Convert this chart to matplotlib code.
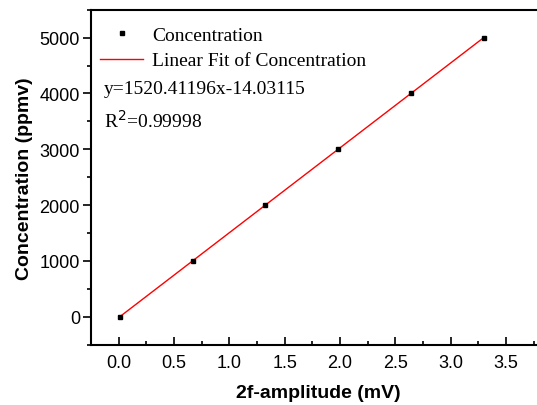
import numpy as np
import matplotlib.pyplot as plt
from matplotlib.ticker import MultipleLocator

# data
amplitude = [0.01, 0.67, 1.32, 1.98, 2.64, 3.30]
concentration = [0, 1000, 2000, 3000, 4000, 5000]
slope = 1520.41196
intercept = -14.03115

fig = plt.figure(figsize=(5.37, 4.06), dpi=100)
ax = fig.add_axes([0.1695, 0.1485, 0.847, 0.825])

xfit = np.array([amplitude[0], amplitude[-1]])
ax.plot(amplitude, concentration, 's', color='black', ms=3, label='Concentration', zorder=3)
ax.plot(xfit, slope*xfit + intercept, '-', color='red', lw=1, label='Linear Fit of Concentration')

ax.set_xlim(-0.25, 3.86)
ax.set_ylim(-500, 5500)
ax.xaxis.set_major_locator(MultipleLocator(0.5))
ax.xaxis.set_minor_locator(MultipleLocator(0.25))
ax.yaxis.set_major_locator(MultipleLocator(1000))
ax.yaxis.set_minor_locator(MultipleLocator(500))
ax.tick_params(axis='x', which='both', direction='in', top=False, pad=7)
ax.tick_params(axis='y', which='both', direction='out', right=False, pad=2)
ax.tick_params(which='major', length=6, width=1.2, labelsize=13)
ax.tick_params(which='minor', length=3, width=1.2)
ax.xaxis.set_major_formatter(plt.FormatStrFormatter('%.1f'))
for lab in ax.get_xticklabels() + ax.get_yticklabels():
    lab.set_family('Liberation Sans')
for s in ax.spines.values():
    s.set_linewidth(1.5)

ax.set_xlabel('2f-amplitude (mV)', fontsize=14, fontweight='bold', family='Liberation Sans', labelpad=9)
ax.set_ylabel('Concentration (ppmv)', fontsize=14, fontweight='bold', family='Liberation Sans', labelpad=5)

leg = ax.legend(loc='upper left', bbox_to_anchor=(-0.005, 0.985), frameon=False,
                prop={'family': 'Liberation Serif', 'size': 14}, handlelength=2.2,
                handletextpad=0.45, labelspacing=0.4, borderaxespad=0.2)
ax.text(0.028, 0.765, 'y=1520.41196x-14.03115', transform=ax.transAxes,
        family='Liberation Serif', fontsize=14, va='center')
ax.text(0.028, 0.672, 'R$^2$=0.99998', transform=ax.transAxes,
        family='Liberation Serif', fontsize=14, va='center')

fig.savefig('out.png', dpi=100)
